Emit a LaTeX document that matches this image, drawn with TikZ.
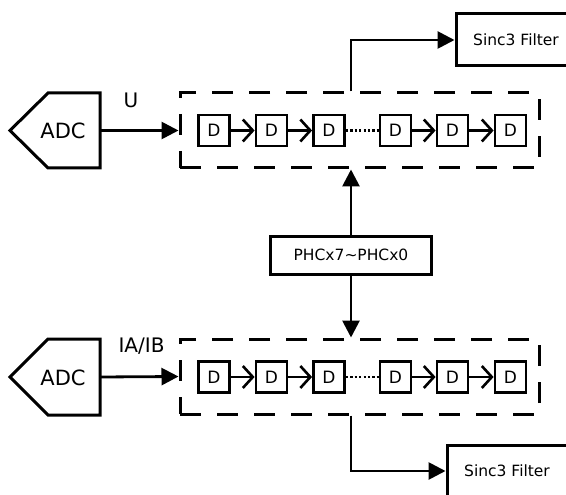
\documentclass[tikz,border=0pt]{standalone}
\usepackage{fontspec}
\setmainfont{DejaVu Sans}
\usetikzlibrary{arrows.meta}
\begin{document}
\begin{tikzpicture}[x=1pt,y=-1pt, line width=3pt,
  arr/.style={line width=2.8pt, -{Triangle[length=17pt,width=17pt]}},
  chainarr/.style={line width=2.6pt, -{Straight Barb[length=10pt,width=22pt]}},
  dbox/.style={draw, line width=2.8pt, minimum width=31pt, minimum height=31pt, inner sep=0pt, font=\fontsize{17}{17}\selectfont},
  reg/.style={draw, dash pattern=on 21pt off 16pt, minimum width=359pt, minimum height=75pt, inner sep=0pt},
  adcshape/.style={draw, line join=miter},
  filt/.style={draw, minimum width=120pt, minimum height=52pt, inner sep=0pt},
  big/.style={font=\fontsize{21}{23}\selectfont},
  lbl/.style={font=\fontsize{20}{22}\selectfont},
  mid/.style={font=\fontsize{15.5}{17}\selectfont},
  dots/.style={line width=2.2pt, dash pattern=on 2.2pt off 2.2pt}
]
\clip (0,0) rectangle (566,495);
\fill[white] (0,0) rectangle (566,495);

% top row
\draw[adcshape] (10,130.5) -- (48,93) -- (100,93) -- (100,168) -- (48,168) -- cycle;
\coordinate (adc1) at (100,130.5);
\node[big] (adc1t) at (63,131) {ADC};
\node[reg] (reg1) at (359.5,130.5) {};
\node[lbl] (u) at (131,100) {U};
\draw[arr] (adc1) -- (reg1.west);
\node[dbox] (d11) at (214,130.5) {D};
\node[dbox] (d12) at (271.5,130.5) {D};
\node[dbox] (d13) at (329,130.5) {D};
\node[dbox] (d14) at (395.5,130.5) {D};
\node[dbox] (d15) at (452.5,130.5) {D};
\node[dbox] (d16) at (510.5,130.5) {D};
\draw[chainarr] (d11) -- (d12);
\draw[chainarr] (d12) -- (d13);
\draw[dots] (d13) -- (d14);
\draw[chainarr] (d14) -- (d15);
\draw[chainarr] (d15) -- (d16);

% middle
\node[draw, mid, minimum width=161pt, minimum height=38pt, inner sep=0pt] (phc) at (351,255) {PHCx7\char"007E PHCx0};

% bottom row
\draw[adcshape] (10,377) -- (48,339) -- (100,339) -- (100,415) -- (48,415) -- cycle;
\coordinate (adc2) at (100,377);
\node[big] (adc2t) at (63,377.5) {ADC};
\node[reg] (reg2) at (359.5,376.5) {};
\node[lbl] (ia) at (141.5,346) {IA/IB};
\draw[arr] (adc2) -- (reg2.west);
\node[dbox] (d21) at (214,377) {D};
\node[dbox] (d22) at (271.5,377) {D};
\node[dbox] (d23) at (329,377) {D};
\node[dbox] (d24) at (395.5,377) {D};
\node[dbox] (d25) at (452.5,377) {D};
\node[dbox] (d26) at (510.5,377) {D};
\draw[chainarr] (d21) -- (d22);
\draw[chainarr] (d22) -- (d23);
\draw[dots] (d23) -- (d24);
\draw[chainarr] (d24) -- (d25);
\draw[chainarr] (d25) -- (d26);

% filters
\node[filt] (s1) at (516,40) {};
\node[mid] (s1t) at (516,40) {Sinc3 Filter};
\node[filt] (s2) at (507,471) {};
\node[mid] (s2t) at (507,471) {Sinc3 Filter};

% connectors
\draw[arr] (phc.north) -- (phc.north |- reg1.south);
\draw[arr] (phc.south) -- (phc.south |- reg2.north);
\draw[arr] (phc.north |- reg1.north) |- (s1.west);
\draw[arr] (phc.south |- reg2.south) |- (s2.west);
\end{tikzpicture}
\end{document}
